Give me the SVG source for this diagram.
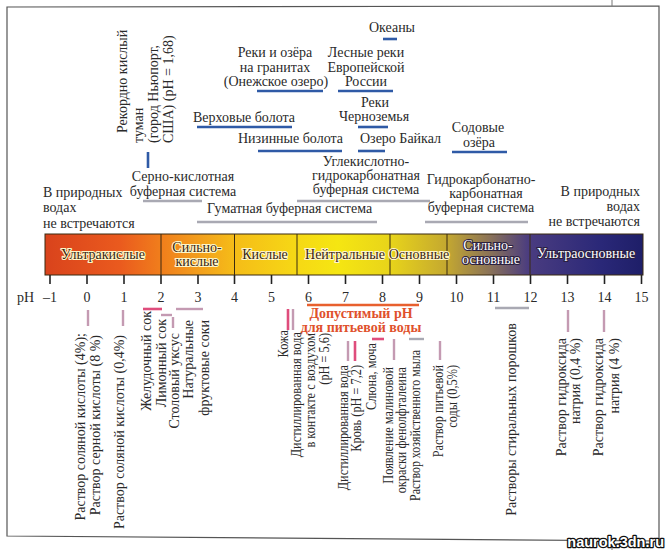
<svg xmlns="http://www.w3.org/2000/svg" width="667" height="550" viewBox="0 0 667 550">
<style>
text{font-family:"Liberation Serif","DejaVu Serif",serif;font-size:14px;fill:#2a2a2a}
.m{text-anchor:middle}
.e{text-anchor:end}
.tick{stroke:#222;stroke-width:1.6}
.div{stroke:#3a2a10;stroke-width:1}
.blue{stroke:#2f5aa6;stroke-width:2.6;fill:none}
.gray{stroke:#a9a9b3;stroke-width:2.4;fill:none}
.mauve{stroke:#c49ab2;stroke-width:2.4;fill:none}
.pink{stroke:#df4d7c;stroke-width:2.6;fill:none}
.orange{stroke:#e8602e;stroke-width:2.6;fill:none}
.dk{fill:#3b2612;stroke:#fff6c8;stroke-width:2.2;paint-order:stroke;stroke-linejoin:round}
.wt{fill:#ffffff;stroke:#2a2040;stroke-width:2;paint-order:stroke;stroke-linejoin:round}
.red{fill:#e0512c;font-weight:bold;stroke:#fff;stroke-width:1.5;paint-order:stroke}
.wm{font-family:"Liberation Sans","DejaVu Sans",sans-serif;font-weight:bold;font-size:14.5px;fill:#fff;stroke:#111;stroke-width:2.6;paint-order:stroke;stroke-linejoin:round;text-anchor:end}
</style>
<defs>
<linearGradient id="phg" gradientUnits="userSpaceOnUse" x1="45" y1="0" x2="643" y2="0">
<stop offset="0" stop-color="#d9431c"/>
<stop offset="0.125" stop-color="#ea5a1e"/>
<stop offset="0.19" stop-color="#f07c1c"/>
<stop offset="0.26" stop-color="#f3a01c"/>
<stop offset="0.316" stop-color="#f5bc18"/>
<stop offset="0.42" stop-color="#f6d815"/>
<stop offset="0.49" stop-color="#f5e612"/>
<stop offset="0.577" stop-color="#e8d41a"/>
<stop offset="0.672" stop-color="#c4a830"/>
<stop offset="0.744" stop-color="#8a7258"/>
<stop offset="0.809" stop-color="#4a3c80"/>
<stop offset="0.93" stop-color="#2a2878"/>
<stop offset="1" stop-color="#1e1e68"/>
</linearGradient>
</defs>
<rect width="667" height="550" fill="#fff"/>
<polygon points="7,7 659,6 659,541 7,536" fill="none" stroke="#555" stroke-width="1.2"/>
<line x1="612" y1="0" x2="612" y2="6" stroke="#777" stroke-width="1"/>
<line x1="612" y1="541" x2="612" y2="550" stroke="#777" stroke-width="1"/>

<g id="ph-bar">
<rect x="45" y="234" width="598" height="41" fill="url(#phg)" stroke="#3a2a10" stroke-width="1"/>
<line class="div" x1="161" y1="234" x2="161" y2="275"/>
<line class="div" x1="234.5" y1="234" x2="234.5" y2="275"/>
<line class="div" x1="297" y1="234" x2="297" y2="275"/>
<line class="div" x1="390" y1="234" x2="390" y2="275"/>
<line class="div" x1="447" y1="234" x2="447" y2="275"/>
<line class="div" x1="530" y1="234" x2="530" y2="275"/>
<text class="m dk" x="103" y="259">Ультракислые</text>
<text class="m dk" x="197" y="252">Сильно-</text>
<text class="m dk" x="197" y="266">кислые</text>
<text class="m dk" x="265" y="259">Кислые</text>
<text class="m dk" x="345" y="259">Нейтральные</text>
<text class="m dk" x="419" y="259">Основные</text>
<text class="m wt" x="488" y="250">Сильно-</text>
<text class="m wt" x="491" y="264">основные</text>
<text class="m wt" x="586" y="258">Ультраосновные</text>
</g>

<g id="ph-scale">
<g>
<line class="tick" x1="50" y1="275" x2="50" y2="284"/>
<line class="tick" x1="87" y1="275" x2="87" y2="284"/>
<line class="tick" x1="124" y1="275" x2="124" y2="284"/>
<line class="tick" x1="161" y1="275" x2="161" y2="284"/>
<line class="tick" x1="198" y1="275" x2="198" y2="284"/>
<line class="tick" x1="234.5" y1="275" x2="234.5" y2="284"/>
<line class="tick" x1="271.5" y1="275" x2="271.5" y2="284"/>
<line class="tick" x1="308.5" y1="275" x2="308.5" y2="284"/>
<line class="tick" x1="345.5" y1="275" x2="345.5" y2="284"/>
<line class="tick" x1="382.5" y1="275" x2="382.5" y2="284"/>
<line class="tick" x1="419.5" y1="275" x2="419.5" y2="284"/>
<line class="tick" x1="456.5" y1="275" x2="456.5" y2="284"/>
<line class="tick" x1="493.5" y1="275" x2="493.5" y2="284"/>
<line class="tick" x1="530.5" y1="275" x2="530.5" y2="284"/>
<line class="tick" x1="567.5" y1="275" x2="567.5" y2="284"/>
<line class="tick" x1="604.5" y1="275" x2="604.5" y2="284"/>
<line class="tick" x1="641.5" y1="275" x2="641.5" y2="284"/>
</g>
<text x="17" y="302">pH</text>
<text class="m" x="50" y="302">–1</text>
<text class="m" x="87" y="302">0</text>
<text class="m" x="124" y="302">1</text>
<text class="m" x="161" y="302">2</text>
<text class="m" x="198" y="302">3</text>
<text class="m" x="234.5" y="302">4</text>
<text class="m" x="271.5" y="302">5</text>
<text class="m" x="308.5" y="302">6</text>
<text class="m" x="345.5" y="302">7</text>
<text class="m" x="382.5" y="302">8</text>
<text class="m" x="419.5" y="302">9</text>
<text class="m" x="456.5" y="302">10</text>
<text class="m" x="493.5" y="302">11</text>
<text class="m" x="530.5" y="302">12</text>
<text class="m" x="567.5" y="302">13</text>
<text class="m" x="604.5" y="302">14</text>
<text class="m" x="641.5" y="302">15</text>
</g>

<g id="connectors">
<line class="blue" x1="383" y1="39" x2="397" y2="39"/>
<line class="blue" x1="257" y1="91" x2="323" y2="91"/>
<line class="blue" x1="338" y1="91" x2="393" y2="91"/>
<line class="blue" x1="358" y1="127" x2="388" y2="127"/>
<line class="blue" x1="197" y1="127" x2="292" y2="127"/>
<line class="blue" x1="258" y1="151" x2="342" y2="151"/>
<line class="blue" x1="358" y1="151" x2="385" y2="151"/>
<line class="blue" x1="452" y1="152" x2="507" y2="152"/>
<line class="blue" x1="148" y1="152" x2="148" y2="168"/>
<line class="gray" x1="143" y1="201" x2="202" y2="201"/>
<line class="gray" x1="297" y1="201" x2="430" y2="201"/>
<line class="gray" x1="197" y1="222" x2="377" y2="222"/>
<line class="gray" x1="425" y1="222" x2="528" y2="222"/>
<line class="mauve" x1="88" y1="310" x2="88" y2="326"/>
<line class="mauve" x1="123" y1="310" x2="123" y2="326"/>
<line class="pink" x1="143" y1="309" x2="162" y2="309"/>
<line class="mauve" x1="161" y1="315" x2="172" y2="315"/>
<line class="mauve" x1="173" y1="317" x2="173" y2="328"/>
<line class="mauve" x1="176" y1="309" x2="203" y2="309"/>
<line class="orange" x1="307" y1="305" x2="419" y2="305"/>
<line class="pink" x1="288" y1="309" x2="288" y2="330"/>
<line class="mauve" x1="293" y1="309" x2="293" y2="330"/>
<line class="mauve" x1="348" y1="341" x2="348" y2="361"/>
<line class="pink" x1="355" y1="341" x2="355" y2="361"/>
<line class="pink" x1="372" y1="339" x2="384" y2="339"/>
<line class="mauve" x1="394" y1="339" x2="394" y2="360"/>
<line class="gray" x1="409" y1="339" x2="424" y2="339"/>
<line class="mauve" x1="440" y1="341" x2="440" y2="360"/>
<line class="gray" x1="495" y1="308" x2="529" y2="308"/>
<line class="mauve" x1="568" y1="310" x2="568" y2="332"/>
<line class="mauve" x1="604" y1="310" x2="604" y2="332"/>
</g>

<g id="n-oceans"><text class="m" x="392" y="32">Океаны</text></g>
<g id="n-granite-lakes">
<text class="m" x="275" y="57">Реки и озёра</text>
<text class="m" x="275" y="72">на гранитах</text>
<text class="m" x="276" y="86">(Онежское озеро)</text>
</g>
<g id="n-forest-rivers">
<text class="m" x="366" y="57">Лесные реки</text>
<text class="m" x="366" y="72">Европейской</text>
<text class="m" x="366" y="86">России</text>
</g>
<g id="n-chernozem">
<text class="m" x="375" y="107">Реки</text>
<text class="m" x="374" y="121">Черноземья</text>
</g>
<g id="n-upland-bogs"><text x="193" y="122">Верховые болота</text></g>
<g id="n-lowland-bogs"><text x="238" y="143">Низинные болота</text></g>
<g id="n-baikal"><text x="360" y="143">Озеро Байкал</text></g>
<g id="n-soda-lakes">
<text class="m" x="478" y="132">Содовые</text>
<text class="m" x="479" y="147">озёра</text>
</g>
<g id="n-fog">
<text transform="translate(127,133) rotate(-90)">Рекордно кислый</text>
<text transform="translate(143,143) rotate(-90)">туман</text>
<text transform="translate(158,143) rotate(-90)">(город Ньюпорт,</text>
<text transform="translate(173,143) rotate(-90)">США) (pH = 1,68)</text>
</g>
<g id="n-sulfuric-buffer">
<text class="m" x="183" y="181">Серно-кислотная</text>
<text class="m" x="183" y="196">буферная система</text>
</g>
<g id="n-carbonic-buffer">
<text class="m" x="366" y="166">Углекислотно-</text>
<text class="m" x="366" y="180">гидрокарбонатная</text>
<text class="m" x="366" y="194">буферная система</text>
</g>
<g id="n-humate-buffer"><text x="207" y="213">Гуматная буферная система</text></g>
<g id="n-bicarbonate-buffer">
<text class="m" x="481" y="184">Гидрокарбонатно-</text>
<text class="m" x="486" y="198">карбонатная</text>
<text class="m" x="481" y="212">буферная система</text>
</g>
<g id="n-left-none">
<text x="43" y="197">В природных</text>
<text x="43" y="212">водах</text>
<text x="43" y="228">не встречаются</text>
</g>
<g id="n-right-none">
<text class="e" x="640" y="196">В природных</text>
<text class="e" x="640" y="211">водах</text>
<text class="e" x="640" y="226">не встречаются</text>
</g>

<g id="n-drinking">
<text class="m red" x="361" y="318">Допустимый pH</text>
<text class="m red" x="361" y="332">для питьевой воды</text>
</g>
<g id="n-hcl4"><text class="e" transform="translate(85,333) rotate(-90)">Раствор соляной кислоты (4%);</text>
<text class="e" transform="translate(100,335) rotate(-90)">Раствор серной кислоты (8 %)</text></g>
<g id="n-hcl04"><text class="e" transform="translate(124,335) rotate(-90)">Раствор соляной кислоты (0,4%)</text></g>
<g id="n-gastric"><text class="e" transform="translate(151,311) rotate(-90)">Желудочный сок</text></g>
<g id="n-lemon"><text class="e" transform="translate(166,319) rotate(-90)">Лимонный сок</text></g>
<g id="n-vinegar"><text class="e" transform="translate(179,333) rotate(-90)">Столовый уксус</text></g>
<g id="n-juices">
<text class="e" transform="translate(193,320) rotate(-90)">Натуральные</text>
<text class="e" transform="translate(209,320) rotate(-90)">фруктовые соки</text>
</g>
<g id="n-skin"><text class="e" transform="translate(288,330) rotate(-90) scale(0.88,1)">Кожа</text></g>
<g id="n-water-air">
<text class="e" transform="translate(301,332) rotate(-90) scale(0.88,1)">Дистиллированная вода</text>
<text class="e" transform="translate(315,333) rotate(-90) scale(0.88,1)">в контакте с воздухом</text>
<text class="e" transform="translate(329,333) rotate(-90) scale(0.88,1)">(pH = 5,6)</text>
</g>
<g id="n-water"><text class="e" transform="translate(348,365) rotate(-90) scale(0.88,1)">Дистиллированная вода</text></g>
<g id="n-blood"><text class="e" transform="translate(361,365) rotate(-90) scale(0.88,1)">Кровь (pH = 7,2)</text></g>
<g id="n-saliva"><text class="e" transform="translate(376,343) rotate(-90) scale(0.88,1)">Слюна, моча</text></g>
<g id="n-phenol">
<text class="e" transform="translate(393,367) rotate(-90) scale(0.88,1)">Появление малиновой</text>
<text class="e" transform="translate(406,367) rotate(-90) scale(0.88,1)">окраски фенолфталеина</text>
</g>
<g id="n-soap"><text class="e" transform="translate(420,350) rotate(-90) scale(0.85,1)">Раствор хозяйственного мыла</text></g>
<g id="n-soda">
<text class="e" transform="translate(443,365) rotate(-90) scale(0.88,1)">Раствор питьевой</text>
<text class="e" transform="translate(457,365) rotate(-90) scale(0.88,1)">соды (0,5%)</text>
</g>
<g id="n-detergent"><text class="e" transform="translate(516,323) rotate(-90)">Растворы стиральных порошков</text></g>
<g id="n-naoh04">
<text class="e" transform="translate(566,338) rotate(-90)">Раствор гидроксида</text>
<text class="e" transform="translate(580,338) rotate(-90)">натрия (0,4 %)</text>
</g>
<g id="n-naoh4">
<text class="e" transform="translate(603,338) rotate(-90)">Раствор гидроксида</text>
<text class="e" transform="translate(619,338) rotate(-90)">натрия (4 %)</text>
</g>
<text class="wm" x="664" y="547">naurok.3dn.ru</text>
</svg>
